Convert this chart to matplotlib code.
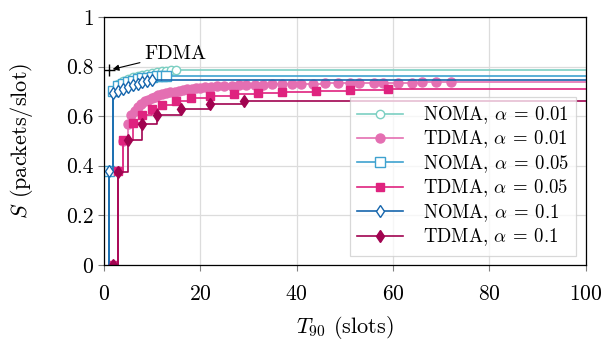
import matplotlib
matplotlib.use("Agg")
import matplotlib.pyplot as plt

plt.rcParams['font.family'] = 'serif'
plt.rcParams['font.serif'] = ['cmr10']
plt.rcParams['mathtext.fontset'] = 'cm'
plt.rcParams['axes.formatter.use_mathtext'] = True
plt.rcParams['axes.unicode_minus'] = False

# NOMA series (T90 in slots, S in packets/slot)
noma_001_x = [1, 1, 2, 3, 4, 5, 6, 7, 8, 9, 10, 11, 12, 13, 14, 15]
noma_001_y = [0, 0.38, 0.70, 0.73, 0.742, 0.75, 0.757, 0.762, 0.766, 0.77, 0.774, 0.777, 0.78, 0.782, 0.784, 0.786]
noma_005_x = [1, 1, 2, 3, 4, 5, 6, 7, 8, 9, 10, 11, 12, 13]
noma_005_y = [0, 0.38, 0.70, 0.72, 0.73, 0.737, 0.743, 0.748, 0.752, 0.755, 0.758, 0.76, 0.762, 0.763]
noma_01_x = [1, 1, 2, 3, 4, 5, 6, 7, 8, 9, 10]
noma_01_y = [0, 0.38, 0.695, 0.70, 0.71, 0.718, 0.725, 0.731, 0.736, 0.74, 0.744]

# TDMA series
tdma_001_x = [2, 3, 4, 5, 5.7, 6.4, 7.1, 7.8, 8.5, 9.2, 9.9, 10.6, 11.3, 12.1, 13, 13.8, 14.7, 15.5,
              16.4, 17.3, 18.2, 19.1, 20, 21.1, 22.3, 23.5, 25, 26.5, 28, 29.5, 31.3, 33, 35, 37, 39,
              41, 43.5, 46, 48.5, 51, 53, 56, 58, 61, 64, 66, 69, 72]
tdma_001_y = [0, 0.38, 0.50, 0.57, 0.605, 0.622, 0.638, 0.649, 0.659, 0.666, 0.672, 0.679, 0.685,
              0.689, 0.692, 0.696, 0.699, 0.702, 0.705, 0.708, 0.710, 0.712, 0.714, 0.716, 0.718,
              0.72, 0.722, 0.723, 0.724, 0.725, 0.726, 0.727, 0.728, 0.729, 0.73, 0.731, 0.731,
              0.732, 0.733, 0.733, 0.734, 0.734, 0.735, 0.735, 0.735, 0.736, 0.736, 0.736]
tdma_005_x = [2, 3, 4, 6, 8, 10, 12, 15, 18, 22, 27, 32, 37, 44, 51, 59]
tdma_005_y = [0, 0.38, 0.504, 0.571, 0.605, 0.629, 0.645, 0.661, 0.674, 0.683, 0.688, 0.695, 0.699, 0.703, 0.706, 0.708]
tdma_01_x = [2, 3, 5, 8, 11, 16, 22, 29]
tdma_01_y = [0, 0.376, 0.504, 0.567, 0.605, 0.629, 0.649, 0.662]

fdma_x = [1]
fdma_y = [0.785]

labels = [r'NOMA, $\alpha\:=\:0.01$', r'TDMA, $\alpha\:=\:0.01$', r'NOMA, $\alpha\:=\:0.05$',
          r'TDMA, $\alpha\:=\:0.05$', r'NOMA, $\alpha\:=\:0.1$', r'TDMA, $\alpha\:=\:0.1$']

series = [(noma_001_x, noma_001_y, '#7ccfc2', 'o', 'none', 6),
          (tdma_001_x, tdma_001_y, '#e46fb2', 'o', 'full', 6.5),
          (noma_005_x, noma_005_y, '#3ea2cf', 's', 'none', 6.5),
          (tdma_005_x, tdma_005_y, '#df237f', 's', 'full', 6),
          (noma_01_x, noma_01_y, '#1666ad', 'd', 'none', 6.5),
          (tdma_01_x, tdma_01_y, '#a10350', 'd', 'full', 6.5)]

fig = plt.figure(figsize=(6.07, 3.45), dpi=100)
ax = fig.add_axes([0.171, 0.232, 0.794, 0.719])

for (xs, ys, col, mk, fill, ms), lab in zip(series, labels):
    # extend the last level to the right border (const plot)
    xx = list(xs) + [110]
    yy = list(ys) + [ys[-1]]
    first = 1 if fill == 'none' else 0
    if fill == 'none':
        ax.plot(xx, yy, drawstyle='steps-post', color=col, lw=1.2, marker=mk, ms=ms,
                mfc='white', mec=col, mew=1.0, markevery=slice(first, len(xs)), label=lab)
    else:
        ax.plot(xx, yy, drawstyle='steps-post', color=col, lw=1.2, marker=mk, ms=ms,
                mfc=col, mec=col, markevery=slice(first, len(xs)), label=lab)

ax.plot(fdma_x, fdma_y, '+', color='black', ms=8, mew=1.0)
ax.annotate('FDMA', xy=(fdma_x[0], fdma_y[0]), xytext=(14.8, 0.85), fontsize=14.5,
            ha='center', va='center',
            arrowprops=dict(arrowstyle='-|>', color='black', lw=0.8, shrinkA=1, shrinkB=3,
                            mutation_scale=9))

ax.set_xlim(0, 100)
ax.set_ylim(0, 1)
ax.set_xticks([0, 20, 40, 60, 80, 100])
ax.set_yticks([0, 0.2, 0.4, 0.6, 0.8, 1])
ax.set_yticklabels(['0', '0.2', '0.4', '0.6', '0.8', '1'])
ax.tick_params(labelsize=15.5, direction='out', length=4, color='#808080')
ax.tick_params(axis='x', pad=10)
ax.grid(True, color='#dcdcdc', lw=0.9)
ax.set_axisbelow(True)
for sp in ax.spines.values():
    sp.set_linewidth(0.9)

ax.set_xlabel(r'$T_{90}$ (slots)', fontsize=16, labelpad=7)
ax.set_ylabel(r'$S$ (packets/slot)', fontsize=16, labelpad=22)

leg = ax.legend(loc='lower right', fontsize=13.5, frameon=True, fancybox=False,
                edgecolor='#cccccc', framealpha=0.75, handlelength=2.45,
                borderaxespad=0.5, labelspacing=0.14, handletextpad=1.05)
leg.get_frame().set_linewidth(0.9)

fig.savefig('out.png', dpi=100)
